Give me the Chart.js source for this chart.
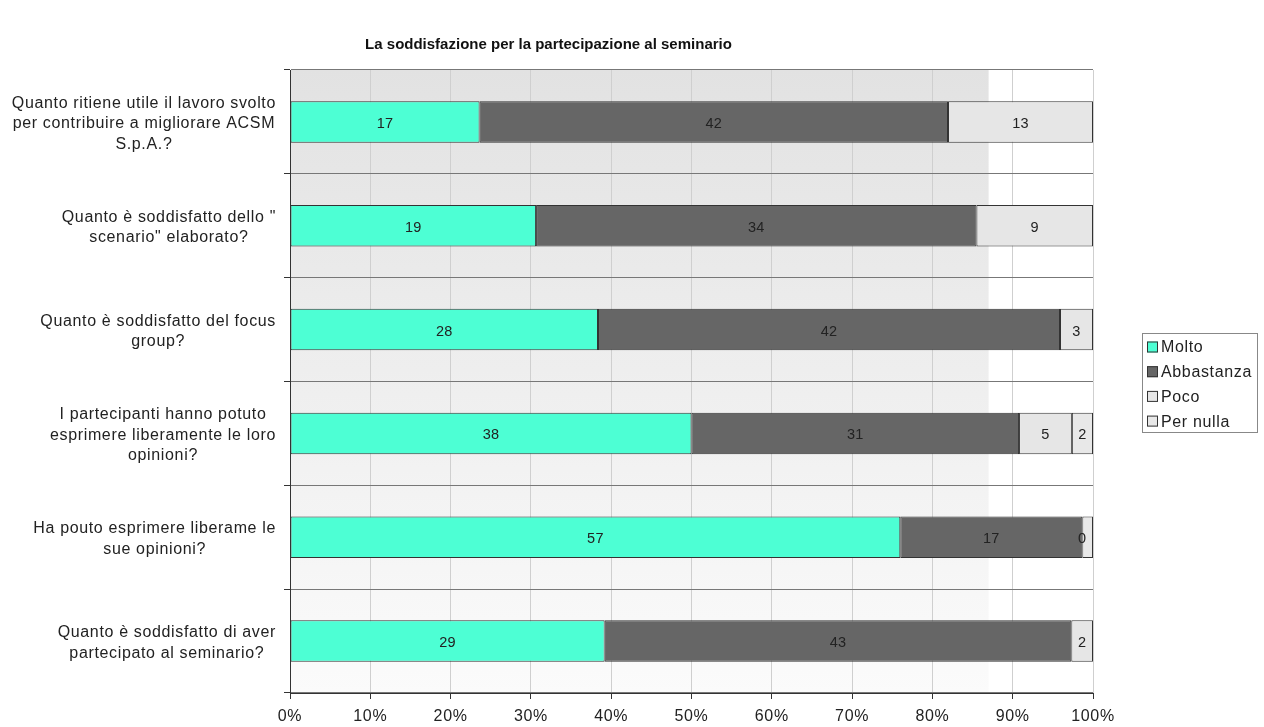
<!DOCTYPE html>
<html><head><meta charset="utf-8">
<script src="https://cdn.jsdelivr.net/npm/chart.js@4.4.0/dist/chart.umd.min.js"></script>
<style>html,body{margin:0;padding:0;background:#fff}canvas{display:block}</style>
</head><body>
<canvas id="c" width="1264" height="727"></canvas>
<script>
const titleText = "La soddisfazione per la partecipazione al seminario";
const categories = [
  ["Quanto ritiene utile il lavoro svolto","per contribuire a migliorare ACSM","S.p.A.?"],
  ["Quanto è soddisfatto dello \"","scenario\" elaborato?"],
  ["Quanto è soddisfatto del focus","group?"],
  ["I partecipanti hanno potuto","esprimere liberamente le loro","opinioni?"],
  ["Ha pouto esprimere liberame le","sue opinioni?"],
  ["Quanto è soddisfatto di aver","partecipato al seminario?"]
];
const seriesNames = ["Molto","Abbastanza","Poco","Per nulla"];
const molto      = [17, 19, 28, 38, 57, 29];
const abbastanza = [42, 34, 42, 31, 17, 43];
const poco       = [13,  9,  3,  5,  0,  2];
const perNulla   = [ 0,  0,  0,  2,  1,  0];
const tickLabels = ["0%","10%","20%","30%","40%","50%","60%","70%","80%","90%","100%"];
// labels shown for zero values / hidden for non-zero values, as in the picture: [series, row]
const forceShow = [[2,4]];
const forceHide = [[3,4]];

const colors = ["#4dffd4","#666666","#e6e6e6","#e8e8e8"];
const counts = [molto, abbastanza, poco, perNulla];
const totals = molto.map((v,i)=>counts.reduce((s,a)=>s+a[i],0));
const FONT = "'Liberation Sans', Arial, sans-serif";
const SPACING = '0.65px';

const datasets = counts.map((arr,k)=>({
  label: seriesNames[k],
  data: arr.map((v,i)=>v/totals[i]*100),
  raw: arr,
  backgroundColor: colors[k],
  borderColor: "#333333",
  borderWidth: 1,
  borderSkipped: false,
  barPercentage: 0.4,
  categoryPercentage: 1.0
}));

const bgPlugin = {
  id:'bg',
  beforeDraw(chart){
    const {ctx, chartArea:a} = chart;
    ctx.letterSpacing = SPACING;
    const xs = chart.scales.x;
    const split = xs.getPixelForValue(87);
    const g = ctx.createLinearGradient(0,a.top,0,a.bottom);
    g.addColorStop(0,'#e2e2e2');
    g.addColorStop(1,'#fbfbfb');
    ctx.save();
    ctx.fillStyle = g;
    ctx.fillRect(a.left,a.top,split-a.left,a.bottom-a.top);
    ctx.restore();
  }
};

const labelPlugin = {
  id:'lbl',
  afterDatasetsDraw(chart){
    const {ctx} = chart;
    ctx.save();
    ctx.letterSpacing = '0.3px';
    ctx.font = "14.5px " + FONT;
    ctx.fillStyle = "#222";
    ctx.textAlign = "center";
    ctx.textBaseline = "middle";
    chart.data.datasets.forEach((ds,k)=>{
      const meta = chart.getDatasetMeta(k);
      meta.data.forEach((bar,i)=>{
        const v = ds.raw[i];
        let show = v !== 0;
        if (forceShow.some(p=>p[0]===k&&p[1]===i)) show = true;
        if (forceHide.some(p=>p[0]===k&&p[1]===i)) show = false;
        if (!show) return;
        const cx = (bar.x + bar.base)/2;
        ctx.fillText(String(v), cx, bar.y+2);
      });
    });
    // category labels: block right-aligned, lines centered
    ctx.letterSpacing = SPACING;
    ctx.font = "16px " + FONT;
    const ys = chart.scales.y;
    const right = chart.chartArea.left - 14;
    chart.data.labels.forEach((lines,i)=>{
      const y = ys.getPixelForValue(i) + 2;
      const w = Math.max(...lines.map(l=>ctx.measureText(l).width));
      const cx = right - w/2;
      const lh = 20.5;
      const y0 = y - (lines.length-1)*lh/2;
      lines.forEach((l,j)=>ctx.fillText(l, cx, y0 + j*lh));
    });
    // title
    ctx.letterSpacing = '0px';
    ctx.font = "bold 15px " + FONT;
    ctx.fillStyle = "#111";
    ctx.fillText(titleText, chart.chartArea.right/2 + 2, 45);
    // legend
    const lx = 1142, ly = 333, lw = 115, lh2 = 99;
    ctx.strokeStyle = "#888";
    ctx.lineWidth = 1;
    ctx.strokeRect(lx+0.5, ly+0.5, lw, lh2);
    ctx.letterSpacing = SPACING;
    ctx.font = "16px " + FONT;
    ctx.textAlign = "left";
    chart.data.datasets.forEach((ds,k)=>{
      const yy = ly + 14 + k*24.7;
      ctx.fillStyle = ds.backgroundColor;
      ctx.fillRect(lx+5, yy-5.5, 11, 11);
      ctx.strokeStyle = "#333";
      ctx.strokeRect(lx+5.5, yy-5, 10, 10);
      ctx.fillStyle = "#222";
      ctx.fillText(ds.label, lx+19, yy+1);
    });
    ctx.restore();
  }
};

new Chart(document.getElementById('c'), {
  type:'bar',
  data:{ labels: categories, datasets },
  options:{
    indexAxis:'y',
    responsive:false,
    animation:false,
    layout:{ padding:{ left:284, right:171, top:70, bottom:-8 } },
    plugins:{ legend:{display:false}, title:{display:false}, tooltip:{enabled:false} },
    scales:{
      x:{
        stacked:true, min:0, max:100,
        ticks:{ stepSize:10, color:'#222', font:{family:FONT,size:16,lineHeight:1.0}, padding:10,
                callback:(v,i)=>tickLabels[i] },
        grid:{ color:'#cfcfcf', tickColor:'#333', tickLength:6, drawOnChartArea:true },
        border:{ color:'#333', width:1 }
      },
      y:{
        stacked:true,
        ticks:{ display:false },
        grid:{ offset:true, color:'#777', tickColor:'#333', tickLength:6, lineWidth:1 },
        border:{ color:'#333', width:1 }
      }
    }
  },
  plugins:[bgPlugin,labelPlugin]
});
</script>
</body></html>
